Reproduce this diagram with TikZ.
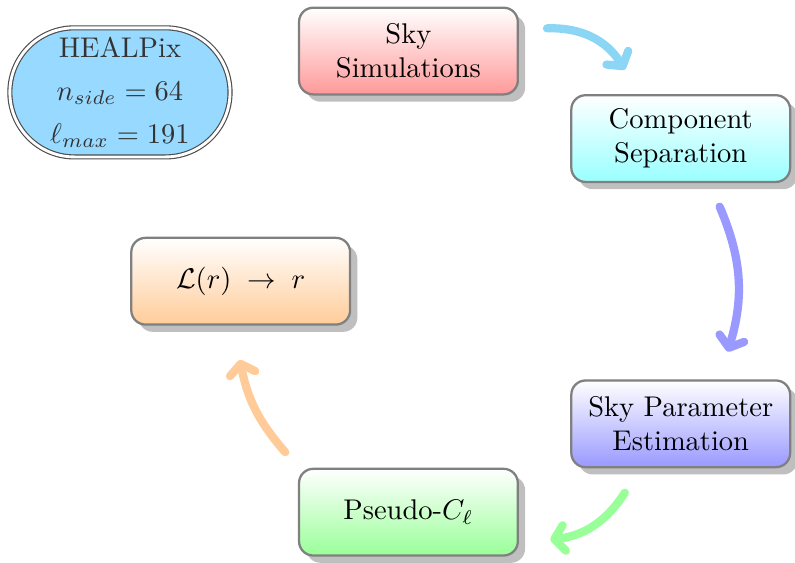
\documentclass[tikz,border=0pt]{standalone}
\usepackage{amsmath,amssymb}
\usepackage{xcolor}
\usepackage{tikz}
\usetikzlibrary{arrows.meta,shadows,shapes.misc,positioning}
\definecolor{skyblue}{RGB}{152,218,255}
\definecolor{arrowsky}{RGB}{140,214,245}
\tikzset{
  paso/.style={rectangle,rounded corners=5pt,draw=gray,thick,align=center,
    minimum width=2.7cm,minimum height=1.07cm,
    drop shadow={shadow xshift=.09cm,shadow yshift=-.09cm,fill=black!25,opacity=1}},
  flecha/.style={line width=2.9pt,line cap=round,
    -{Straight Barb[round,length=3.5pt,width=9pt]}},
  info/.style={rounded rectangle,double,draw=black!70,thin,double distance=1pt,
    fill=skyblue,text=black!80,align=center,
    minimum width=2.7cm,minimum height=1.55cm,font=\fontsize{10}{15}\selectfont}
}
\begin{document}
\begin{tikzpicture}[scale=1.0]
\useasboundingbox (0,0) rectangle (9.81,-6.935);
% pasos del ciclo
\node[paso,top color=white,bottom color=red!40] (sim) at (5.04,-0.63) {Sky\\Simulations};
\node[paso,top color=white,bottom color=cyan!40] (comp) at (8.40,-1.71) {Component\\Separation};
\node[paso,top color=white,bottom color=blue!40] (par) at (8.40,-5.23) {Sky Parameter\\Estimation};
\node[paso,top color=white,bottom color=green!40] (cl) at (5.04,-6.32) {Pseudo-$C_\ell$};
\node[paso,top color=white,bottom color=orange!40] (like) at (2.97,-3.47) {$\mathcal{L}(r)\;\rightarrow\;r$};
% parametros
\node[info] (healpix) at (1.48,-1.14) {HEALPix\\$n_{side}=64$\\$\ell_{max}=191$};
% extremos de las flechas
\coordinate (a1) at (6.75,-0.35);
\coordinate (b1) at (7.71,-0.86);
\coordinate (a2) at (8.88,-2.55);
\coordinate (b2) at (8.98,-4.34);
\coordinate (a3) at (7.71,-6.08);
\coordinate (b3) at (6.79,-6.66);
\coordinate (a4) at (3.52,-5.58);
\coordinate (b4) at (2.96,-4.44);
\draw[flecha,arrowsky] (a1) to[bend left=30] (b1);
\draw[flecha,blue!40] (a2) to[bend left=20] (b2);
\draw[flecha,green!40] (a3) to[bend left=25] (b3);
\draw[flecha,orange!40] (a4) to[bend left=15] (b4);
\end{tikzpicture}
\end{document}
